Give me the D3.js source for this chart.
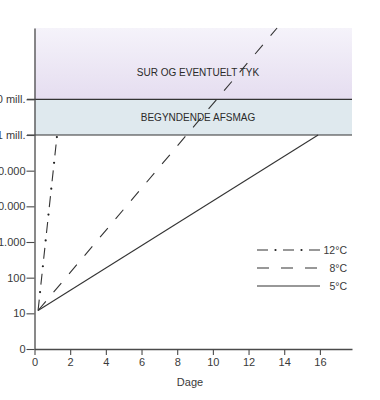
<!DOCTYPE html>
<html><head><meta charset="utf-8">
<script src="https://cdn.jsdelivr.net/npm/d3@7"></script>
<style>
html,body{margin:0;padding:0;background:#fff;}
svg{display:block;font-family:"Liberation Sans",Arial,sans-serif;}
</style></head>
<body>
<svg id="c" width="380" height="400"></svg>
<script>
// ---- data ----
const xTicks = [0, 2, 4, 6, 8, 10, 12, 14, 16];
const yTickValues = [1, 10, 100, 1000, 10000, 100000, 1000000, 10000000];
const yTickLabels = ["0", "10", "100", "1.000", "10.000", "100.000", "1 mill.", "10 mill."];
const seriesNames = ["12°C", "8°C", "5°C"];
const series12 = [[0.2, 12], [1.26, 930000]];
const series8 = [[0.2, 12], [13.6, 1000000000]];
const series5 = [[0.2, 12], [15.9, 1000000]];
const bandLabels = ["SUR OG EVENTUELT TYK", "BEGYNDENDE AFSMAG"];
const bandBounds = [[10000000, 1000000000], [1000000, 10000000]];
const xLabel = "Dage";

// ---- layout ----
const svg = d3.select("#c");
const mLeft = 34.5, mRight = 352, mTop = 28, mBottom = 349;
const x = d3.scaleLinear().domain([0, 17.8]).range([mLeft, mRight]);
const y = d3.scaleLog().domain([1, 1e9]).range([mBottom, mTop]);
const ink = "#4a4a4a";

const defs = svg.append("defs");
const g1 = defs.append("linearGradient").attr("id", "purp").attr("x1", 0).attr("x2", 0).attr("y1", 0).attr("y2", 1);
g1.append("stop").attr("offset", "0%").attr("stop-color", "#f5f3fa");
g1.append("stop").attr("offset", "100%").attr("stop-color", "#e5ddf0");

// bands
svg.append("rect").attr("x", mLeft).attr("width", mRight - mLeft)
  .attr("y", y(bandBounds[0][1])).attr("height", y(bandBounds[0][0]) - y(bandBounds[0][1]))
  .attr("fill", "url(#purp)");
svg.append("rect").attr("x", mLeft).attr("width", mRight - mLeft)
  .attr("y", y(bandBounds[1][1])).attr("height", y(bandBounds[1][0]) - y(bandBounds[1][1]))
  .attr("fill", "#dfe9ee");

// band boundary lines
[1000000, 10000000].forEach(v => {
  svg.append("line").attr("x1", 27).attr("x2", mRight)
    .attr("y1", y(v)).attr("y2", y(v)).attr("stroke", "#333").attr("stroke-width", 1.2);
});

// band labels
svg.append("text").attr("x", 198).attr("y", 76).attr("text-anchor", "middle")
  .attr("font-size", 10).attr("fill", "#2a2a2a").text(bandLabels[0]);
svg.append("text").attr("x", 198).attr("y", 121).attr("text-anchor", "middle")
  .attr("font-size", 10).attr("fill", "#2a2a2a").text(bandLabels[1]);

// axes
const xAxis = svg.append("g").attr("transform", `translate(0,${mBottom})`)
  .call(d3.axisBottom(x).tickValues(xTicks).tickSize(6).tickSizeOuter(0));
const yAxis = svg.append("g").attr("transform", `translate(${mLeft},0)`)
  .call(d3.axisLeft(y).tickValues(yTickValues).tickFormat((d, i) => yTickLabels[i]).tickSize(8).tickSizeOuter(0));
[xAxis, yAxis].forEach(a => {
  a.select(".domain").attr("stroke", ink).attr("stroke-width", 1.3);
  a.selectAll(".tick line").attr("stroke", ink).attr("stroke-width", 1.1);
  a.selectAll(".tick text").attr("fill", "#3a3a3a").attr("font-size", 11)
    .attr("font-family", "'Liberation Sans',Arial,sans-serif");
});
yAxis.selectAll(".tick text").attr("x", -9);
xAxis.selectAll(".tick text").attr("y", 9);

svg.append("text").attr("x", 190).attr("y", 386).attr("text-anchor", "middle")
  .attr("font-size", 11).attr("fill", "#3a3a3a").text(xLabel);

// lines
const line = d3.line().x(d => x(d[0])).y(d => y(d[1]));
const styles = [
  {data: series12, dash: "11,15", dots: true},
  {data: series8, dash: "12,12"},
  {data: series5, dash: null}
];
styles.forEach(s => {
  svg.append("path").datum(s.data).attr("d", line).attr("fill", "none")
    .attr("stroke", "#333").attr("stroke-width", 1.1)
    .attr("stroke-dasharray", s.dash);
  if (s.dots) {
    svg.append("path").datum(s.data).attr("d", line).attr("fill", "none")
      .attr("stroke", "#222").attr("stroke-width", 2.2).attr("stroke-linecap", "round")
      .attr("stroke-dasharray", "0,26").attr("stroke-dashoffset", -18.5);
  }
});

// legend
const legY = [250, 268, 286];
styles.forEach((s, i) => {
  svg.append("line").attr("x1", 257).attr("x2", 320).attr("y1", legY[i]).attr("y2", legY[i])
    .attr("stroke", "#333").attr("stroke-width", 1.1).attr("stroke-dasharray", s.dash);
  if (s.dots) {
    svg.append("line").attr("x1", 257).attr("x2", 320).attr("y1", legY[i]).attr("y2", legY[i])
      .attr("stroke", "#222").attr("stroke-width", 2.2).attr("stroke-linecap", "round")
      .attr("stroke-dasharray", "0,26").attr("stroke-dashoffset", -18.5);
  }
  svg.append("text").attr("x", 347).attr("y", legY[i] + 4).attr("text-anchor", "end")
    .attr("font-size", 10.5).attr("fill", "#3a3a3a").text(seriesNames[i]);
});
</script>
</body></html>
